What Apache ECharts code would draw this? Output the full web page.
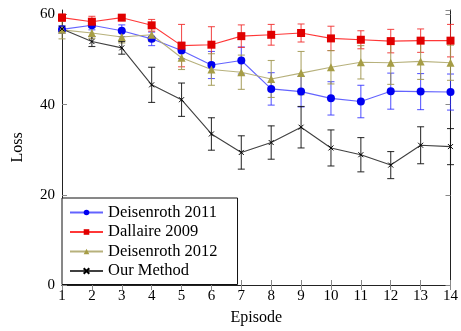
<!DOCTYPE html>
<html>
<head>
<meta charset="utf-8">
<script src="https://cdn.jsdelivr.net/npm/echarts@6/dist/echarts.min.js"></script>
<style>
html, body { margin: 0; padding: 0; background: #fff; }
#chart { width: 461px; height: 331px; }
</style>
</head>
<body>
<div id="chart"></div>
<script>
var episodes = [1, 2, 3, 4, 5, 6, 7, 8, 9, 10, 11, 12, 13, 14];

var deis2011 = [56.7, 57.6, 56.4, 54.6, 52.0, 48.8, 49.8, 43.5, 42.9, 41.4, 40.7, 43.0, 42.9, 42.8];
var deis2011Err = [0.8, 1.0, 1.3, 1.5, 1.8, 3.0, 3.0, 3.6, 3.4, 3.7, 3.6, 4.0, 4.0, 4.0];

var dall2009 = [59.3, 58.4, 59.3, 57.6, 53.1, 53.3, 55.2, 55.5, 55.9, 54.7, 54.4, 54.1, 54.2, 54.2];
var dall2009Err = [0.8, 1.2, 0.6, 1.3, 4.7, 4.0, 2.5, 2.3, 2.0, 2.7, 2.0, 2.6, 2.6, 3.6];

var deis2012 = [56.6, 55.9, 55.0, 55.5, 50.4, 47.8, 47.2, 45.7, 47.0, 48.3, 49.4, 49.3, 49.6, 49.3];
var deis2012Err = [2.0, 1.2, 1.3, 1.5, 2.6, 3.5, 3.8, 4.1, 4.8, 3.7, 3.7, 4.8, 4.0, 3.9];

var ours = [56.8, 54.0, 52.6, 44.4, 41.1, 33.5, 29.4, 31.6, 35.0, 30.4, 28.9, 26.6, 31.0, 30.7];
var oursErr = [0.6, 1.1, 1.4, 3.9, 3.7, 3.6, 3.7, 3.7, 4.6, 4.0, 3.8, 3.0, 4.1, 4.0];

var yTicks = [0, 20, 40, 60];

var font = '"Liberation Serif", "DejaVu Serif", serif';

function pts(vals) {
    var out = [];
    for (var i = 0; i < episodes.length; i++) out.push([episodes[i], vals[i]]);
    return out;
}
function errs(vals, e) {
    var out = [];
    for (var i = 0; i < episodes.length; i++) out.push([episodes[i], vals[i] - e[i], vals[i] + e[i]]);
    return out;
}

// error bars: vertical stroke with small caps
function errSeries(vals, e, color) {
    return {
        type: 'custom',
        silent: true,
        z: 2,
        data: errs(vals, e),
        encode: { x: 0, y: [1, 2] },
        renderItem: function (params, api) {
            var x = api.value(0);
            var lo = api.coord([x, api.value(1)]);
            var hi = api.coord([x, api.value(2)]);
            var w = 3.5;
            var st = { stroke: color, lineWidth: 1.1 };
            return {
                type: 'group',
                children: [
                    { type: 'line', shape: { x1: lo[0], y1: lo[1], x2: hi[0], y2: hi[1] }, style: st },
                    { type: 'line', shape: { x1: lo[0] - w, y1: lo[1], x2: lo[0] + w, y2: lo[1] }, style: st },
                    { type: 'line', shape: { x1: hi[0] - w, y1: hi[1], x2: hi[0] + w, y2: hi[1] }, style: st }
                ]
            };
        }
    };
}

function lineSeries(name, vals, lineColor, markColor, symbol, size, extra) {
    var s = {
        name: name,
        type: 'line',
        data: pts(vals),
        z: 3,
        symbol: symbol,
        symbolSize: size,
        color: markColor,
        lineStyle: { color: lineColor, width: 1.1 },
        itemStyle: { color: markColor, opacity: 1 },
        emphasis: { disabled: true }
    };
    if (extra) s.itemStyle = extra;
    return s;
}

var myChart = echarts.init(document.getElementById('chart'));

var axisCommon = {
    axisLine: { show: true, lineStyle: { color: '#222', width: 1 } },
    axisTick: { show: true, inside: true, length: 5, lineStyle: { color: '#888' } },
    splitLine: { show: false }
};

var option = {
    animation: false,
    backgroundColor: '#fff',
    textStyle: { fontFamily: font },
    grid: { left: 62, right: 10, top: 10, bottom: 46 },
    legend: {
        orient: 'vertical',
        left: 62,
        top: 198,
        data: ['Deisenroth 2011', 'Dallaire 2009', 'Deisenroth 2012', 'Our Method'],
        backgroundColor: '#fff',
        borderColor: '#111',
        borderWidth: 1,
        borderRadius: 0,
        padding: [6, 20, 5, 7],
        itemWidth: 33,
        itemHeight: 7,
        itemGap: 2.5,
        selectedMode: false,
        textStyle: { fontFamily: font, fontSize: 16.5, color: '#000' }
    },
    xAxis: [
        Object.assign({}, axisCommon, {
            type: 'value', min: 1, max: 14, interval: 1,
            name: 'Episode', nameLocation: 'middle', nameGap: 25,
            nameTextStyle: { fontFamily: font, fontSize: 16, color: '#000' },
            axisLabel: { fontFamily: font, fontSize: 15, color: '#000', margin: 4 }
        }),
        Object.assign({}, axisCommon, {
            type: 'value', min: 1, max: 14, interval: 1, position: 'top',
            axisLabel: { show: false }
        })
    ],
    yAxis: [
        Object.assign({}, axisCommon, {
            type: 'value', min: 0, max: 61, interval: 20,
            name: 'Loss', nameLocation: 'middle', nameGap: 36,
            nameTextStyle: { fontFamily: font, fontSize: 16, color: '#000' },
            axisLabel: {
                fontFamily: font, fontSize: 15, color: '#000', margin: 7, showMaxLabel: false,
                formatter: function (v) { return yTicks.indexOf(v) >= 0 ? String(v) : ''; }
            }
        }),
        Object.assign({}, axisCommon, {
            type: 'value', min: 0, max: 61, interval: 20, position: 'right',
            axisLabel: { show: false }
        })
    ],
    series: [
        errSeries(deis2011, deis2011Err, 'rgba(40,40,255,0.75)'),
        lineSeries('Deisenroth 2011', deis2011, 'rgba(60,60,255,0.8)', '#0000f0', 'circle', 8),
        errSeries(dall2009, dall2009Err, 'rgba(240,40,40,0.8)'),
        lineSeries('Dallaire 2009', dall2009, 'rgba(255,20,20,0.85)', '#e00000', 'rect', 8),
        errSeries(deis2012, deis2012Err, 'rgba(160,150,80,0.85)'),
        lineSeries('Deisenroth 2012', deis2012, 'rgba(175,168,110,0.9)', '#a69d45', 'triangle', 8),
        errSeries(ours, oursErr, 'rgba(20,20,20,0.85)'),
        lineSeries('Our Method', ours, 'rgba(30,30,30,0.85)', '#000', 'path://M0,0L10,10M10,0L0,10', 5,
            { color: '#000', borderColor: '#000', borderWidth: 1 })
    ]
};
myChart.setOption(option);
</script>
</body>
</html>
